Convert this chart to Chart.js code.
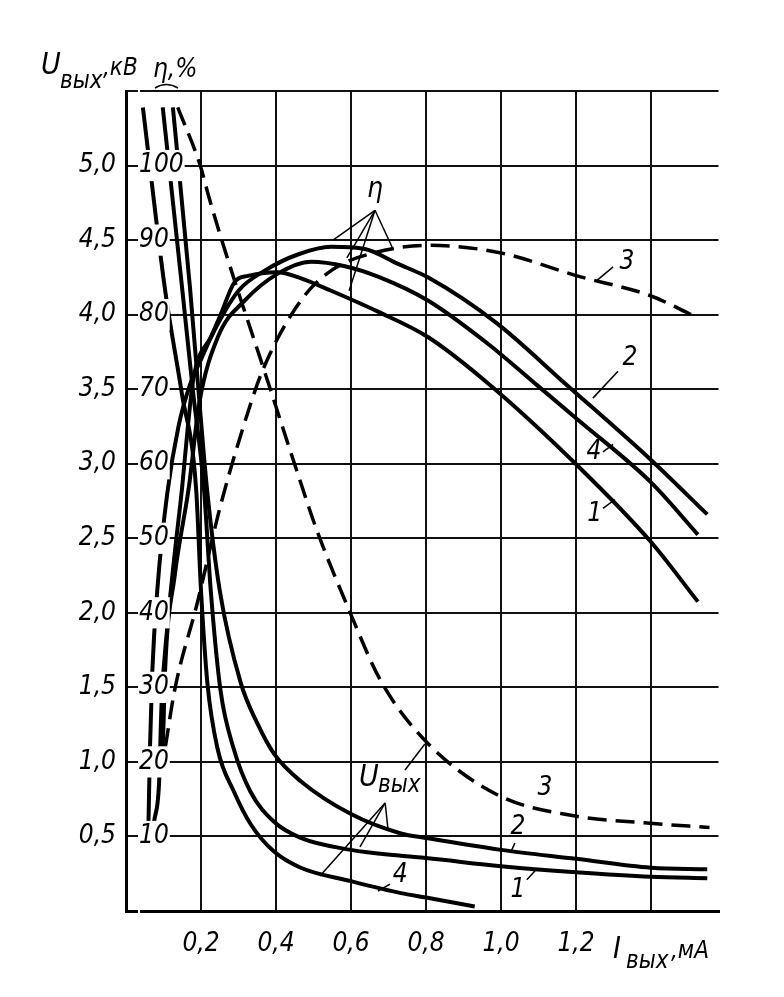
<!DOCTYPE html>
<html>
<head>
<meta charset="utf-8">
<script src="https://cdn.jsdelivr.net/npm/chart.js@4.4.1/dist/chart.umd.min.js"></script>
<style>
  html, body { margin: 0; background: #fff; }
</style>
</head>
<body>
<canvas id="grafica" width="784" height="997"></canvas>
<script>
const grafica = document.getElementById("grafica");
const FUENTE = '"DejaVu Sans Condensed", "DejaVu Sans", sans-serif';

// кривые U вых (кВ) от тока I вых (мА)
const u1I = [0.098, 0.15, 0.178, 0.208, 0.226, 0.252, 0.287, 0.332, 0.394, 0.466, 0.60, 0.733, 0.80, 1.0, 1.2, 1.4, 1.55];
const u1U = [5.39, 4.17, 3.5, 2.83, 2.15, 1.48, 1.09, 0.80, 0.60, 0.49, 0.41, 0.37, 0.355, 0.30, 0.26, 0.23, 0.22];
const u2I = [0.125, 0.171, 0.193, 0.216, 0.25, 0.306, 0.35, 0.396, 0.466, 0.60, 0.733, 0.80, 1.0, 1.2, 1.4, 1.55];
const u2U = [5.39, 4.17, 3.5, 2.83, 2.15, 1.53, 1.26, 1.05, 0.87, 0.65, 0.52, 0.49, 0.41, 0.35, 0.29, 0.28];
const u3I = [0.138, 0.198, 0.222, 0.274, 0.368, 0.461, 0.508, 0.598, 0.678, 0.795, 0.99, 1.19, 1.39, 1.556];
const u3U = [5.39, 5.0, 4.78, 4.35, 3.63, 2.91, 2.56, 2.0, 1.55, 1.15, 0.78, 0.64, 0.59, 0.56];
const u4I = [0.045, 0.104, 0.149, 0.187, 0.20, 0.217, 0.244, 0.288, 0.333, 0.394, 0.466, 0.60, 0.733, 0.80, 0.93];
const u4U = [5.39, 4.17, 3.47, 2.83, 2.15, 1.53, 1.09, 0.80, 0.58, 0.40, 0.29, 0.20, 0.12, 0.09, 0.03];

// кривые КПД (%) от тока I вых (мА)
const g1I = [0.06, 0.064, 0.07, 0.085, 0.11, 0.14, 0.17, 0.20, 0.25, 0.29, 0.325, 0.405, 0.46, 0.547, 0.672, 0.805, 0.965, 1.205, 1.40, 1.525];
const g1P = [12, 22, 32, 44, 56, 65, 70.5, 74, 79.7, 84.4, 85.2, 85.7, 85.0, 83.2, 80.4, 77.0, 70.8, 59.7, 49.5, 41.5];
const g2I = [0.075, 0.088, 0.095, 0.11, 0.13, 0.15, 0.165, 0.18, 0.227, 0.30, 0.37, 0.46, 0.547, 0.637, 0.725, 0.805, 0.99, 1.17, 1.40, 1.55];
const g2P = [12, 17, 28, 38, 48, 57, 65, 71.5, 77, 83.2, 85.9, 88.1, 89.1, 88.8, 86.8, 85.0, 78.8, 70.8, 60.5, 53.2];
const g3I = [0.105, 0.13, 0.19, 0.25, 0.31, 0.365, 0.468, 0.55, 0.655, 0.81, 0.997, 1.21, 1.395, 1.52];
const g3P = [22, 29.7, 41.3, 54, 64.5, 72.6, 82, 86, 88.2, 89.3, 88.3, 85.1, 82.6, 79.7];
const g4I = [0.095, 0.10, 0.104, 0.13, 0.168, 0.195, 0.245, 0.317, 0.405, 0.493, 0.584, 0.672, 0.805, 0.965, 1.09, 1.205, 1.40, 1.525];
const g4P = [18, 25, 32, 45, 57, 68, 77, 81.9, 85.5, 87.1, 86.5, 85.1, 81.9, 76.1, 70.8, 65.9, 57.5, 50.5];

// подписи осей
const xTicks = [0.2, 0.4, 0.6, 0.8, 1.0, 1.2];
const kvTicks = [0.5, 1.0, 1.5, 2.0, 2.5, 3.0, 3.5, 4.0, 4.5, 5.0];
const pctTicks = [10, 20, 30, 40, 50, 60, 70, 80, 90, 100];

const pares = (xs, ys) => xs.map((v, k) => ({ x: v, y: ys[k] }));
const coma = (v) => v.toFixed(1).replace(".", ",");
const hay = (lista, v) => lista.some((t) => Math.abs(t - v) < 1e-6);

const linea = (datos, eje, discontinua) => ({
  data: datos,
  yAxisID: eje,
  borderColor: "#000",
  borderWidth: discontinua ? 3.5 : 4,
  borderDash: discontinua ? [19, 9] : [],
  pointRadius: 0,
  cubicInterpolationMode: "monotone",
  fill: false,
});

const datasets = [
  linea(pares(u1I, u1U), "y", false),
  linea(pares(u2I, u2U), "y", false),
  linea(pares(u3I, u3U), "y", true),
  linea(pares(u4I, u4U), "y", false),
  linea(pares(g1I, g1P), "pct", false),
  linea(pares(g2I, g2P), "pct", false),
  linea(pares(g3I, g3P), "pct", true),
  linea(pares(g4I, g4P), "pct", false),
];

const texto = (ctx, s, x, y, size, align = "center", base = "middle") => {
  ctx.font = `italic ${size}px ${FUENTE}`;
  ctx.textAlign = align;
  ctx.textBaseline = base;
  ctx.fillText(s, x, y);
};

const trazo = (ctx, pts) => {
  ctx.beginPath();
  ctx.moveTo(pts[0][0], pts[0][1]);
  pts.slice(1).forEach((p) => ctx.lineTo(p[0], p[1]));
  ctx.stroke();
};

const notas = {
  id: "notas",
  afterDraw(chart) {
    const { ctx, scales } = chart;
    const px = (i) => scales.x.getPixelForValue(i);
    const py = (u) => scales.y.getPixelForValue(u);
    const p = (i, u) => [px(i), py(u)];
    ctx.save();
    ctx.fillStyle = "#000";
    ctx.strokeStyle = "#000";
    ctx.lineWidth = 1.5;

    // заголовки осей
    texto(ctx, "U", 41, 74, 30, "left", "alphabetic");
    texto(ctx, "вых", 60, 88, 24, "left", "alphabetic");
    texto(ctx, ",кВ", 103, 75, 24, "left", "alphabetic");
    texto(ctx, "η,%", 153, 77, 26, "left", "alphabetic");
    ctx.beginPath();
    ctx.moveTo(155, 88);
    ctx.quadraticCurveTo(166, 81, 178, 88);
    ctx.stroke();

    texto(ctx, "I", 613, 958, 30, "left", "alphabetic");
    texto(ctx, "вых", 626, 968, 24, "left", "alphabetic");
    texto(ctx, ",мА", 671, 958, 24, "left", "alphabetic");

    // номера кривых справа
    texto(ctx, "3", ...p(1.336, 4.35), 26);
    trazo(ctx, [p(1.299, 4.32), p(1.256, 4.23)]);
    texto(ctx, "2", ...p(1.344, 3.71), 26);
    trazo(ctx, [p(1.312, 3.62), p(1.245, 3.44)]);
    texto(ctx, "4", ...p(1.248, 3.08), 26);
    trazo(ctx, [p(1.272, 3.08), p(1.299, 3.13)]);
    texto(ctx, "1", ...p(1.25, 2.66), 26);
    trazo(ctx, [p(1.272, 2.70), p(1.304, 2.76)]);

    // номера кривых внизу
    texto(ctx, "3", ...p(1.117, 0.82), 26);
    texto(ctx, "2", ...p(1.045, 0.56), 26);
    trazo(ctx, [p(1.037, 0.456), p(1.027, 0.40)]);
    texto(ctx, "1", ...p(1.045, 0.14), 26);
    trazo(ctx, [p(1.069, 0.21), p(1.091, 0.27)]);
    texto(ctx, "4", ...p(0.731, 0.24), 26);
    trazo(ctx, [p(0.704, 0.18), p(0.672, 0.134)]);

    // выноска КПД
    texto(ctx, "η", ...p(0.664, 4.84), 28);
    const apex = p(0.664, 4.70);
    [p(0.552, 4.50), p(0.589, 4.38), p(0.595, 4.16), p(0.712, 4.44)].forEach((q) => trazo(ctx, [apex, q]));

    // выноска U вых
    texto(ctx, "U", ...p(0.648, 0.89), 30);
    texto(ctx, "вых", px(0.672), py(0.80), 24, "left", "alphabetic");
    const base = p(0.691, 0.725);
    [p(0.517, 0.235), p(0.624, 0.43), p(0.699, 0.54)].forEach((q) => trazo(ctx, [base, q]));
    trazo(ctx, [p(0.744, 0.946), p(0.797, 1.12)]);

    ctx.restore();
  },
};

const config = {
  type: "line",
  data: { datasets },
  options: {
    responsive: false,
    animation: false,
    layout: { padding: { left: 0, right: 65.5, top: 91, bottom: 0 } },
    plugins: { legend: { display: false }, tooltip: { enabled: false } },
    scales: {
      x: {
        type: "linear",
        min: 0,
        max: 1.58,
        grid: { color: "#111", lineWidth: 2, drawTicks: false },
        border: { color: "#000", width: 3 },
        ticks: {
          stepSize: 0.2,
          includeBounds: false,
          padding: 18,
          color: "#000",
          font: { family: FUENTE, style: "italic", size: 26 },
          callback: (v) => (hay(xTicks, v) ? coma(v) : ""),
        },
        afterFit: (s) => { s.height = 86; },
      },
      y: {
        type: "linear",
        position: "left",
        weight: 1,
        min: 0,
        max: 5.5,
        grid: { color: "#111", lineWidth: 2, drawTicks: false },
        border: { color: "#000", width: 3 },
        ticks: {
          stepSize: 0.5,
          padding: 10,
          color: "#000",
          font: { family: FUENTE, style: "italic", size: 26 },
          callback: (v) => (hay(kvTicks, v) ? coma(v) : ""),
        },
        afterFit: (s) => { s.width = 126; },
      },
      pct: {
        type: "linear",
        position: "left",
        weight: 0,
        min: 0,
        max: 110,
        grid: { display: false, drawTicks: false },
        border: { display: false },
        ticks: {
          stepSize: 10,
          mirror: true,
          padding: 13,
          z: 1,
          color: "#000",
          showLabelBackdrop: true,
          backdropColor: "#fff",
          backdropPadding: { x: 1, y: 0 },
          font: { family: FUENTE, style: "italic", size: 26 },
          callback: (v) => (hay(pctTicks, v) ? String(v) : ""),
        },
        afterFit: (s) => { s.width = 0; },
      },
    },
  },
  plugins: [notas],
};

const mychart = new Chart(grafica, config);
</script>
</body>
</html>
